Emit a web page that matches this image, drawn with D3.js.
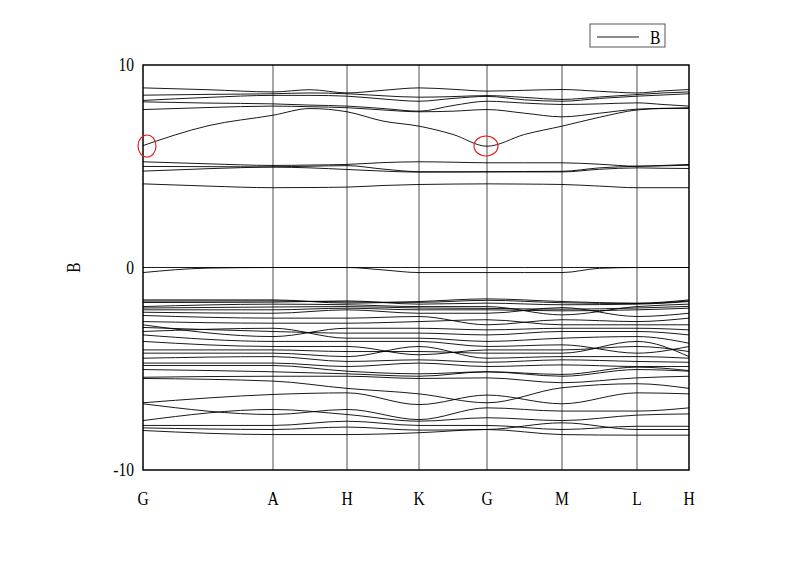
<!DOCTYPE html>
<html>
<head>
<meta charset="utf-8">
<script src="https://cdn.jsdelivr.net/npm/d3@7"></script>
<style>
  body { margin: 0; background: #fff; }
  svg text { font-family: "Liberation Serif", "DejaVu Serif", serif; fill: #000; }
</style>
</head>
<body>
<div id="chart"></div>
<script>
// high-symmetry points along the k-path
const kLabels = ["G", "A", "H", "K", "G", "M", "L", "H"];
const kTicks = [0, 1.30, 2.04, 2.76, 3.44, 4.19, 4.94, 5.46];
const yTicks = [-10, 0, 10];
const seriesName = "B";

// bands sampled at points + segment midpoints (15 values)
const condUpper = [
    [8.87, 8.78, 8.67, 8.78, 8.62, 8.75, 8.87, 8.80, 8.71, 8.75, 8.79, 8.70, 8.62, 8.72, 8.79],
    [8.51, 8.55, 8.58, 8.62, 8.58, 8.48, 8.41, 8.44, 8.49, 8.40, 8.30, 8.42, 8.54, 8.62, 8.67],
    [8.25, 8.40, 8.50, 8.50, 8.46, 8.32, 8.21, 8.35, 8.45, 8.28, 8.21, 8.35, 8.46, 8.52, 8.58],
    [8.18, 8.12, 8.08, 8.02, 7.97, 7.85, 7.72, 8.00, 8.21, 8.12, 8.05, 8.08, 8.13, 8.05, 7.97],
    [7.80, 7.90, 7.97, 7.94, 7.89, 7.78, 7.69, 7.72, 7.80, 7.62, 7.44, 7.62, 7.82, 7.86, 7.89],
    [6.02, 7.00, 7.52, 7.85, 7.69, 7.23, 6.98, 6.57, 5.99, 6.57, 6.98, 7.42, 7.78, 7.85, 7.85]
];
const condLower = [
    [5.22, 5.12, 5.04, 5.06, 5.09, 5.18, 5.22, 5.20, 5.17, 5.17, 5.17, 5.10, 5.00, 5.04, 5.09],
    [4.99, 4.98, 4.96, 4.92, 4.84, 4.76, 4.71, 4.72, 4.72, 4.72, 4.72, 4.85, 4.92, 4.90, 4.89],
    [4.76, 4.88, 4.97, 5.00, 5.03, 4.86, 4.73, 4.72, 4.73, 4.74, 4.75, 4.92, 5.00, 5.02, 5.05],
    [4.13, 4.02, 3.94, 3.95, 3.97, 4.05, 4.10, 4.12, 4.13, 4.12, 4.10, 4.02, 3.94, 3.94, 3.94]
];
const nearZero = [
    [0, 0, 0, 0, 0, 0, 0, 0, 0, 0, 0, 0, 0, 0, 0],
    [-0.25, -0.03, 0, 0, 0, -0.12, -0.25, -0.25, -0.25, -0.25, -0.25, -0.04, 0, 0, 0]
];

// valence bands at the 8 high-symmetry points
const valUpper = [
    [-1.60, -1.60, -1.76, -1.68, -1.55, -1.68, -1.76, -1.60],
    [-1.66, -1.65, -1.70, -1.72, -1.62, -1.74, -1.78, -1.65],
    [-1.73, -1.71, -1.65, -1.81, -1.76, -1.84, -1.81, -1.68],
    [-1.93, -1.81, -1.84, -1.93, -1.93, -2.34, -1.93, -1.81],
    [-2.00, -1.95, -1.93, -2.00, -2.02, -2.06, -2.00, -1.92],
    [-2.09, -2.09, -2.01, -2.09, -2.09, -2.14, -2.09, -2.01],
    [-2.21, -2.26, -2.09, -2.26, -2.26, -1.98, -2.42, -2.26],
    [-2.37, -2.50, -2.50, -2.42, -2.83, -2.58, -2.67, -2.50],
    [-2.67, -2.75, -2.75, -2.67, -2.58, -2.83, -2.83, -2.83],
    [-2.83, -3.41, -3.00, -3.00, -3.08, -3.00, -3.00, -3.08],
    [-2.96, -3.16, -3.24, -3.24, -3.33, -3.16, -3.16, -3.33],
    [-3.16, -3.00, -3.49, -3.49, -3.65, -3.49, -3.41, -3.74],
    [-3.33, -3.65, -3.65, -3.65, -3.90, -3.82, -4.23, -3.90],
    [-3.65, -3.90, -3.90, -4.31, -4.07, -4.07, -3.90, -4.15],
    [-4.07, -4.07, -4.15, -4.15, -4.23, -4.23, -3.65, -4.40],
    [-4.23, -4.23, -4.40, -3.90, -4.48, -4.40, -4.40, -4.48],
    [-4.48, -4.40, -4.64, -4.56, -4.68, -4.56, -4.64, -4.68],
    [-4.72, -4.72, -4.89, -4.72, -4.89, -4.81, -4.89, -4.89]
];
const valLower = [
    [-4.84, -4.84, -5.12, -5.25, -5.15, -5.28, -4.92, -5.09],
    [-5.04, -5.15, -5.25, -5.37, -5.15, -5.37, -5.04, -5.12],
    [-5.42, -5.37, -5.37, -5.48, -5.45, -5.69, -5.45, -5.37],
    [-5.48, -5.61, -5.97, -6.24, -6.68, -5.94, -5.74, -5.97],
    [-6.68, -6.27, -6.19, -6.77, -6.30, -6.73, -6.19, -6.24],
    [-6.73, -7.26, -7.01, -7.51, -6.93, -7.09, -7.09, -6.93],
    [-7.56, -7.01, -7.26, -7.59, -7.42, -7.56, -7.29, -7.23],
    [-7.80, -7.80, -7.59, -7.80, -7.80, -8.00, -7.84, -7.84],
    [-7.92, -8.00, -7.88, -8.03, -8.00, -7.67, -8.00, -8.00],
    [-8.05, -8.25, -8.25, -8.16, -8.00, -8.25, -8.28, -8.28]
];

// hand-drawn red marks around the band at G
const marks = [{k: 0, e: 6.0, rx: 9, ry: 11, dx: 4}, {k: 3.44, e: 6.0, rx: 12, ry: 10, dx: -1}];

const width = 800, height = 565;
const margin = {top: 65, right: 111, bottom: 95, left: 143};
const iw = width - margin.left - margin.right,
      ih = height - margin.top - margin.bottom;

const svg = d3.select("#chart").append("svg")
    .attr("width", width)
    .attr("height", height);

const g = svg.append("g").attr("transform", `translate(${margin.left},${margin.top})`);

const x = d3.scaleLinear().domain([0, d3.max(kTicks)]).range([0, iw]);
const y = d3.scaleLinear().domain([-10, 10]).range([ih, 0]);

// midpoints between high-symmetry points
const kFine = d3.range(15).map(i => i % 2 === 0 ? kTicks[i / 2]
    : (kTicks[(i - 1) / 2] + kTicks[(i + 1) / 2]) / 2);

// vertical lines at high-symmetry points
g.selectAll(".kline")
    .data(kTicks.slice(1, -1))
    .join("line")
    .attr("x1", d => x(d)).attr("x2", d => x(d))
    .attr("y1", 0).attr("y2", ih)
    .attr("stroke", "#222")
    .attr("stroke-width", 0.8);

const line = d3.line()
    .x(d => x(d[0]))
    .y(d => y(d[1]))
    .curve(d3.curveMonotoneX);

const allBands = [...condUpper, ...condLower, ...nearZero, ...valUpper, ...valLower];

g.append("g").selectAll("path")
    .data(allBands)
    .join("path")
    .attr("d", b => line(b.map((e, i) => [(b.length === 15 ? kFine : kTicks)[i], e])))
    .attr("fill", "none")
    .attr("stroke", "#000")
    .attr("stroke-width", 0.9);

// frame
g.append("rect")
    .attr("width", iw).attr("height", ih)
    .attr("fill", "none")
    .attr("stroke", "#000")
    .attr("stroke-width", 1.5);

// narrow, tall glyphs like the original
const narrow = "scale(0.82,1)";

// y tick labels (plain hyphen for the minus sign)
g.selectAll(".ytick")
    .data(yTicks)
    .join("text")
    .attr("transform", d => `translate(-9,${y(d) + 6}) ${narrow}`)
    .attr("text-anchor", "end")
    .style("font-size", "19px")
    .text(d => String(d));

// x labels
g.selectAll(".klabel")
    .data(kTicks)
    .join("text")
    .attr("transform", d => `translate(${x(d)},${ih + 35}) ${narrow}`)
    .attr("text-anchor", "middle")
    .style("font-size", "19px")
    .text((d, i) => kLabels[i]);

// y title
svg.append("text")
    .attr("transform", `translate(80,${margin.top + y(0)}) rotate(-90) ${narrow}`)
    .attr("text-anchor", "middle")
    .style("font-size", "19px")
    .text(seriesName);

// red marks
g.selectAll(".mark")
    .data(marks)
    .join("ellipse")
    .attr("cx", d => x(d.k) + d.dx)
    .attr("cy", d => y(d.e))
    .attr("rx", d => d.rx)
    .attr("ry", d => d.ry)
    .attr("fill", "none")
    .attr("stroke", "#e0201a")
    .attr("stroke-width", 1.2);

// legend
const legend = svg.append("g").attr("transform", "translate(590,24)");
legend.append("rect")
    .attr("width", 75).attr("height", 23)
    .attr("fill", "#fff")
    .attr("stroke", "#555")
    .attr("stroke-width", 1);
legend.append("line")
    .attr("x1", 7).attr("x2", 49)
    .attr("y1", 13).attr("y2", 13)
    .attr("stroke", "#000")
    .attr("stroke-width", 0.9);
legend.append("text")
    .attr("transform", `translate(60,20) ${narrow}`)
    .style("font-size", "19px")
    .text(seriesName);
</script>
</body>
</html>
